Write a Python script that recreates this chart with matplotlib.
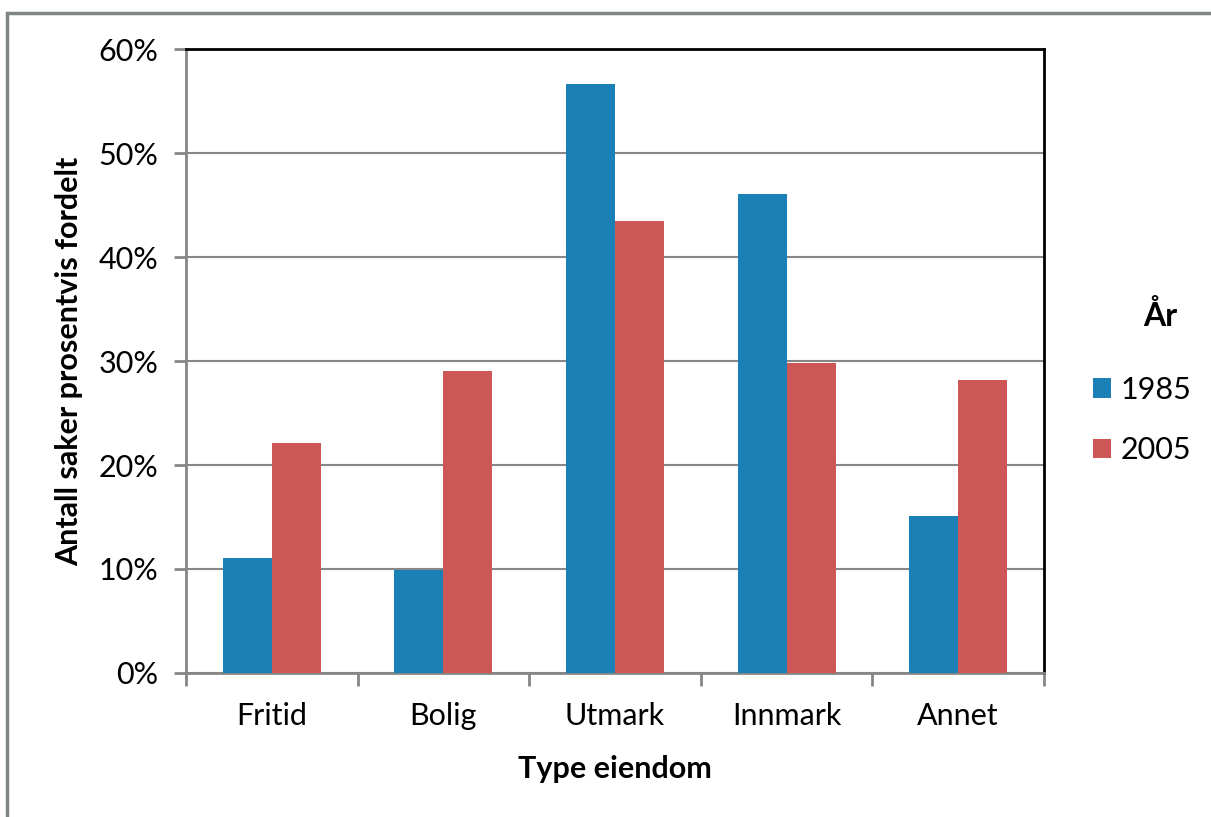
import matplotlib.pyplot as plt
import numpy as np
from matplotlib.patches import Rectangle
from matplotlib.ticker import PercentFormatter

plt.rcParams['font.family'] = ['Lato', 'DejaVu Sans']

kategorier = ['Fritid', 'Bolig', 'Utmark', 'Innmark', 'Annet']
aar = ['1985', '2005']
verdier_1985 = [11.1, 9.9, 56.6, 46.1, 15.1]
verdier_2005 = [22.1, 29.0, 43.5, 29.8, 28.2]
farger = ['#1a80b6', '#cd5757']

W, H = 1211, 817
fig = plt.figure(figsize=(W / 100, H / 100), dpi=100)
ax = fig.add_axes([186 / W, 1 - 673 / H, (1044 - 186) / W, (673 - 49) / H])

# ramme rundt hele diagrammet
fig.patches.append(Rectangle((7 / W, -0.1), 1.2, 1 - 13 / H + 0.1,
                             transform=fig.transFigure, fill=False,
                             edgecolor='#7f8587', linewidth=2.5))

x = np.arange(len(kategorier))
bredde = 0.286
ax.bar(x - bredde / 2, verdier_1985, bredde, color=farger[0], label=aar[0], zorder=3)
ax.bar(x + bredde / 2, verdier_2005, bredde, color=farger[1], label=aar[1], zorder=3)

ax.set_xlim(-0.5, len(kategorier) - 0.5)
ax.set_ylim(0, 60)
ax.set_yticks(np.arange(0, 61, 10))
ax.yaxis.set_major_formatter(PercentFormatter(decimals=0))
ax.set_xticks(x)
ax.set_xticklabels(kategorier)
ax.set_xticks(np.arange(-0.5, len(kategorier), 1), minor=True)
ax.tick_params(axis='x', which='major', length=0, pad=21, labelsize=22)
ax.tick_params(axis='x', which='minor', length=9, width=2, color='#868686', direction='out')
ax.tick_params(axis='y', length=9, width=2, color='#868686', direction='out', pad=11, labelsize=22)

ax.grid(axis='y', color='#868686', linewidth=1.5, zorder=0)
for s in ['left', 'bottom']:
    ax.spines[s].set_color('#868686')
    ax.spines[s].set_linewidth(2)
for s in ['top', 'right']:
    ax.spines[s].set_color('black')
    ax.spines[s].set_linewidth(2)

ax.set_xlabel('Type eiendom', fontsize=22, fontweight='bold', labelpad=18)
ax.set_ylabel('Antall saker prosentvis fordelt', fontsize=22, fontweight='bold', labelpad=11)

# forklaring
fig.text(1160 / W, 1 - 315 / H, 'År', fontsize=23, fontweight='bold', ha='center', va='center')
leg = fig.legend(loc='center left', bbox_to_anchor=(1093 / W, 1 - 420 / H),
                 frameon=False, fontsize=22, handlelength=0.6, handleheight=0.6,
                 handletextpad=0.3, labelspacing=1.05, borderpad=0, borderaxespad=0)

fig.savefig('out.png', dpi=100)
